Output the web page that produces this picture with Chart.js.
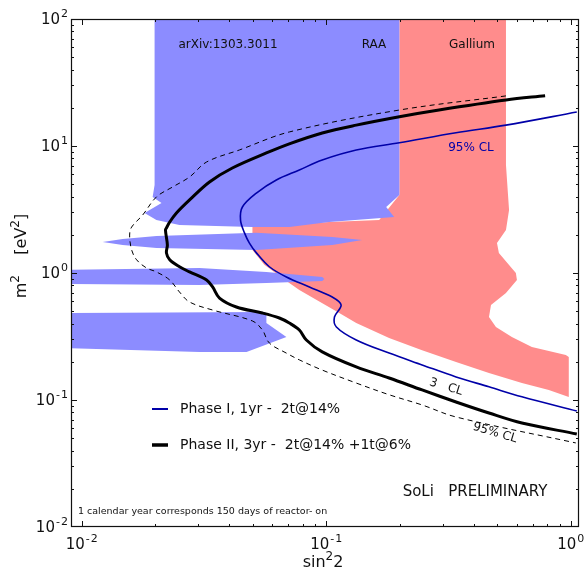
<!DOCTYPE html>
<html>
<head>
<meta charset="utf-8">
<script src="https://cdn.jsdelivr.net/npm/chart.js@4/dist/chart.umd.min.js"></script>
<style>
  html, body { margin: 0; padding: 0; background: #fff; }
  canvas { display: block; }
</style>
</head>
<body>
<canvas id="soliChart" width="585" height="574"></canvas>
<script>
// axis ranges (log-log)
const xRange = [0.00904, 1.08];
const yRange = [0.01, 100];
// decade labels: exponent shown after "10"
const xTickExp = [-2, -1, 0];
const yTickExp = [-2, -1, 0, 1, 2];

// Phase II, 3yr - 3 sigma (thick black)
const phase2X = [0.785, 0.543, 0.289, 0.199, 0.1326, 0.0963, 0.0706, 0.0569, 0.0413, 0.0333, 0.0276, 0.0244, 0.0229, 0.0222, 0.0220, 0.0224, 0.0222, 0.0229, 0.0251, 0.0276, 0.0324, 0.0343, 0.0366, 0.0429, 0.0548, 0.0643, 0.0706, 0.0776, 0.0829, 0.0963, 0.1326, 0.1807, 0.2465, 0.3393, 0.4627, 0.6310, 1.058];
const phase2Y = [24.9, 23.0, 19.2, 17.0, 14.6, 12.66, 10.4, 8.81, 6.71, 5.21, 3.76, 2.97, 2.52, 2.26, 2.18, 1.66, 1.44, 1.27, 1.12, 1.02, 0.881, 0.776, 0.635, 0.540, 0.484, 0.442, 0.404, 0.356, 0.297, 0.239, 0.182, 0.149, 0.120, 0.0965, 0.0790, 0.0659, 0.054];

// Phase II - 95% CL (dashed)
const phase2ClX = [0.543, 0.199, 0.0706, 0.0441, 0.0324, 0.0276, 0.0235, 0.0202, 0.01775, 0.0160, 0.0157, 0.0160, 0.01677, 0.01841, 0.0202, 0.0229, 0.0251, 0.0276, 0.0343, 0.0499, 0.0548, 0.0585, 0.0687, 0.0776, 0.0963, 0.1326, 0.1807, 0.2465, 0.3393, 1.048];
const phase2ClY = [24.8, 19.2, 12.9, 9.30, 7.48, 5.70, 4.75, 3.97, 2.86, 2.30, 1.99, 1.52, 1.27, 1.095, 1.02, 0.881, 0.709, 0.591, 0.511, 0.419, 0.356, 0.281, 0.234, 0.207, 0.172, 0.136, 0.110, 0.0914, 0.0735, 0.0459];

// Phase I, 1yr (blue)
const phase1X = [1.058, 0.543, 0.3393, 0.199, 0.1326, 0.0963, 0.0776, 0.0625, 0.0518, 0.0454, 0.0446, 0.0463, 0.0485, 0.0518, 0.0585, 0.0687, 0.0853, 0.1058, 0.115, 0.108, 0.110, 0.1326, 0.1807, 0.2465, 0.3393, 0.4627, 0.6310, 1.058];
const phase1Y = [18.5, 14.6, 12.7, 10.6, 9.30, 7.76, 6.47, 5.40, 4.26, 3.31, 2.61, 2.07, 1.72, 1.44, 1.12, 0.930, 0.776, 0.647, 0.560, 0.450, 0.376, 0.297, 0.234, 0.189, 0.152, 0.127, 0.106, 0.0819];

// arXiv:1303.3011 / RAA allowed region (blue), main block and three bands
const raaMainX = [0.01986, 0.199, 0.199, 0.1758, 0.1895, 0.1028, 0.0706, 0.0499, 0.0251, 0.0202, 0.01807, 0.0212, 0.0195, 0.01986];
const raaMainY = [100, 100, 4.11, 3.31, 2.76, 2.52, 2.30, 2.30, 2.39, 2.61, 2.97, 3.56, 3.97, 4.93];
const raaBand1X = [0.01218, 0.01470, 0.02023, 0.0518, 0.1058, 0.1402, 0.1058, 0.0518, 0.02023, 0.01470];
const raaBand1Y = [1.754, 1.853, 1.956, 2.07, 1.92, 1.82, 1.66, 1.52, 1.57, 1.66];
const raaBand2X = [0.00813, 0.0303, 0.0569, 0.0963, 0.0981, 0.0963, 0.0569, 0.0303, 0.00813];
const raaBand2Y = [1.06, 1.095, 1.02, 0.930, 0.897, 0.865, 0.834, 0.804, 0.819];
const raaBand3X = [0.00813, 0.0548, 0.0569, 0.0569, 0.0687, 0.0472, 0.0303, 0.00813];
const raaBand3Y = [0.484, 0.493, 0.484, 0.404, 0.313, 0.239, 0.239, 0.257];

// Gallium allowed region (red)
const galliumX = [0.199, 0.543, 0.543, 0.559, 0.543, 0.499, 0.508, 0.596, 0.602, 0.543, 0.4716, 0.4627, 0.494, 0.574, 0.693, 0.954, 0.981, 0.981, 0.813, 0.631, 0.4627, 0.3393, 0.2465, 0.1807, 0.1326, 0.113, 0.0776, 0.0706, 0.0558, 0.0499, 0.0499, 0.1028, 0.1646, 0.199];
const galliumY = [100, 100, 7.09, 3.13, 2.18, 1.72, 1.44, 1.0, 0.881, 0.696, 0.560, 0.450, 0.376, 0.313, 0.261, 0.226, 0.218, 0.1056, 0.120, 0.136, 0.163, 0.199, 0.247, 0.308, 0.404, 0.484, 0.735, 0.834, 1.16, 1.52, 2.30, 2.52, 2.61, 4.11];

const FONT = '"DejaVu Sans", "Noto Sans", sans-serif';

function pts(xs, ys) {
    return xs.map((x, i) => ({ x: x, y: ys[i] }));
}

function region(xs, ys, color) {
    return {
        data: pts(xs, ys),
        showLine: true,
        fill: 'shape',
        backgroundColor: color,
        borderColor: color,
        borderWidth: 0,
        pointRadius: 0,
        tension: 0,
        order: 10
    };
}

function curve(xs, ys, color, width, dash, order) {
    return {
        data: pts(xs, ys),
        showLine: true,
        fill: false,
        borderColor: color,
        borderWidth: width,
        borderDash: dash,
        borderJoinStyle: 'round',
        pointRadius: 0,
        tension: 0.35,
        order: order
    };
}

// 10^n label like matplotlib mathtext
function powLabel(ctx, exp, x, y, align) {
    const base = '10';
    const sup = exp < 0 ? '-\u200A' + Math.abs(exp) : String(exp);
    ctx.font = '15px ' + FONT;
    const wb = ctx.measureText(base).width;
    ctx.font = '11px ' + FONT;
    const ws = ctx.measureText(sup).width;
    const w = wb + ws + 1;
    let x0 = align === 'right' ? x - w : x - w / 2;
    ctx.textAlign = 'left';
    ctx.textBaseline = 'middle';
    ctx.font = '15px ' + FONT;
    ctx.fillText(base, x0, y);
    ctx.font = '11px ' + FONT;
    ctx.fillText(sup, x0 + wb + 1, y - 6);
}

// text with a raised "2" drawn like mathtext
function supText(ctx, parts, x, y) {
    let total = 0;
    parts.forEach(p => {
        ctx.font = (p.sup ? '12px ' : '16px ') + FONT;
        p.w = ctx.measureText(p.t).width;
        total += p.w;
    });
    let cx = x - total / 2;
    ctx.textAlign = 'left';
    ctx.textBaseline = 'middle';
    parts.forEach(p => {
        ctx.font = (p.sup ? '12px ' : '16px ') + FONT;
        ctx.fillText(p.t, cx, p.sup ? y - 6 : y);
        cx += p.w;
    });
}

const framePlugin = {
    id: 'framePlugin',
    afterDraw(chart) {
        const ctx = chart.ctx;
        const a = chart.chartArea;
        const xs = chart.scales.x, ys = chart.scales.y;
        ctx.save();
        ctx.fillStyle = '#111';
        ctx.strokeStyle = '#111';

        // frame
        ctx.lineWidth = 1.2;
        ctx.strokeRect(a.left + 0.5, a.top + 0.5, a.right - a.left - 1, a.bottom - a.top - 1);

        // inward ticks on all four sides
        ctx.lineWidth = 1;
        ctx.beginPath();
        for (let e = -3; e <= 2; e++) {
            for (let m = 1; m <= 9; m++) {
                const v = m * Math.pow(10, e);
                const len = m === 1 ? 6 : 3;
                if (v > xRange[0] && v < xRange[1]) {
                    const px = Math.round(xs.getPixelForValue(v)) + 0.5;
                    ctx.moveTo(px, a.bottom); ctx.lineTo(px, a.bottom - len);
                    ctx.moveTo(px, a.top); ctx.lineTo(px, a.top + len);
                }
                if (v > yRange[0] && v < yRange[1]) {
                    const py = Math.round(ys.getPixelForValue(v)) + 0.5;
                    ctx.moveTo(a.left, py); ctx.lineTo(a.left + len, py);
                    ctx.moveTo(a.right, py); ctx.lineTo(a.right - len, py);
                }
            }
        }
        ctx.stroke();

        // tick labels
        xTickExp.forEach(e => powLabel(ctx, e, xs.getPixelForValue(Math.pow(10, e)), a.bottom + 18, 'center'));
        yTickExp.forEach(e => powLabel(ctx, e, a.left - 3, ys.getPixelForValue(Math.pow(10, e)) + 1, 'right'));

        // axis titles
        supText(ctx, [{ t: 'sin' }, { t: '2', sup: true }, { t: '2' }], 323, 563);
        ctx.save();
        ctx.translate(22, 256);
        ctx.rotate(-Math.PI / 2);
        supText(ctx, [{ t: 'm' }, { t: '2', sup: true }, { t: '    [eV' }, { t: '2', sup: true }, { t: ']' }], 0, 0);
        ctx.restore();

        // region labels
        ctx.font = '12px ' + FONT;
        ctx.textAlign = 'center';
        ctx.textBaseline = 'middle';
        ctx.fillText('arXiv:1303.3011', 228, 45);
        ctx.fillText('RAA', 374, 45);
        ctx.fillText('Gallium', 472, 45);
        ctx.fillStyle = '#0000a8';
        ctx.fillText('95% CL', 471, 148);
        ctx.fillStyle = '#111';

        // labels along the phase II curves
        ctx.save();
        ctx.translate(446, 387);
        ctx.rotate(0.30);
        ctx.fillText('3   CL', 0, 0);
        ctx.restore();
        ctx.save();
        ctx.translate(495, 433);
        ctx.rotate(0.29);
        ctx.fillText('95% CL', 0, 0);
        ctx.restore();

        // legend
        ctx.lineCap = 'butt';
        ctx.strokeStyle = '#0000a8';
        ctx.lineWidth = 2;
        ctx.beginPath(); ctx.moveTo(152, 409); ctx.lineTo(168, 409); ctx.stroke();
        ctx.strokeStyle = '#000';
        ctx.lineWidth = 3.5;
        ctx.beginPath(); ctx.moveTo(152, 445); ctx.lineTo(168, 445); ctx.stroke();
        ctx.font = '14px ' + FONT;
        ctx.textAlign = 'left';
        ctx.fillText('Phase I, 1yr -  2t@14%', 180, 409);
        ctx.fillText('Phase II, 3yr -  2t@14% +1t@6%', 180, 445);

        ctx.font = '15px ' + FONT;
        ctx.textAlign = 'center';
        ctx.fillText('SoLi   PRELIMINARY', 475, 492);

        ctx.font = '9.5px ' + FONT;
        ctx.textAlign = 'left';
        ctx.fillText('1 calendar year corresponds 150 days of reactor- on', 78, 512);
        ctx.restore();
    }
};

const ctx = document.getElementById('soliChart').getContext('2d');
new Chart(ctx, {
    type: 'scatter',
    data: {
        datasets: [
            curve(phase2X, phase2Y, '#000', 3, [], 1),
            curve(phase1X, phase1Y, '#0000a8', 1.6, [], 2),
            curve(phase2ClX, phase2ClY, '#000', 1, [5, 4], 3),
            region(raaMainX, raaMainY, '#8c8cff'),
            region(raaBand1X, raaBand1Y, '#8c8cff'),
            region(raaBand2X, raaBand2Y, '#8c8cff'),
            region(raaBand3X, raaBand3Y, '#8c8cff'),
            Object.assign(region(galliumX, galliumY, '#ff8c8c'), { order: 20 })
        ]
    },
    options: {
        responsive: false,
        animation: false,
        events: [],
        layout: { padding: { left: 71, right: 6, top: 19, bottom: 47 } },
        scales: {
            x: { type: 'logarithmic', min: xRange[0], max: xRange[1], display: false },
            y: { type: 'logarithmic', min: yRange[0], max: yRange[1], display: false }
        },
        plugins: {
            legend: { display: false },
            tooltip: { enabled: false }
        }
    },
    plugins: [framePlugin]
});
</script>
</body>
</html>
